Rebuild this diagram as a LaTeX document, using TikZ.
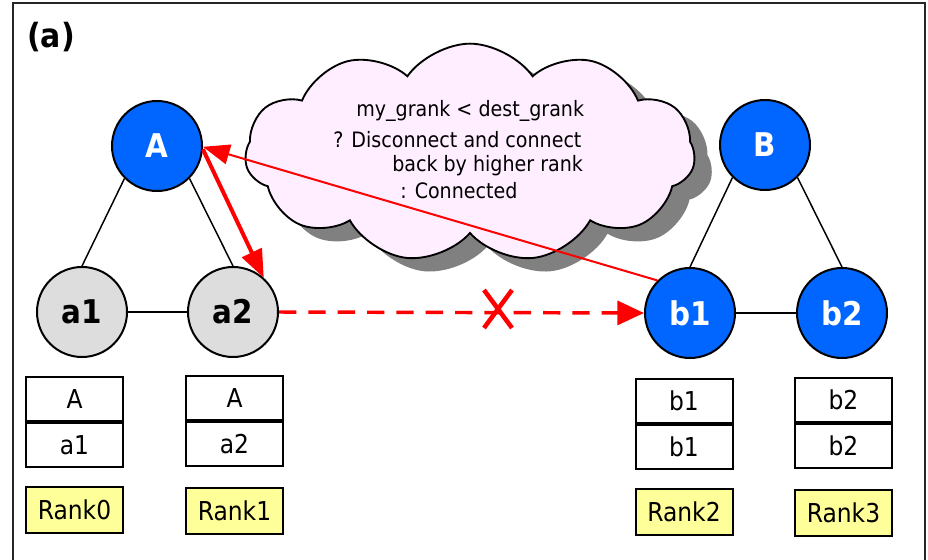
\documentclass[tikz,border=0pt]{standalone}
\usepackage{fontspec}
\setmainfont{DejaVu Sans Condensed}
\usetikzlibrary{arrows.meta,shapes.symbols,shadows}

\definecolor{nodeblue}{RGB}{0,102,255}
\definecolor{nodegray}{RGB}{221,221,221}
\definecolor{rankyellow}{RGB}{255,255,153}
\definecolor{cloudpink}{RGB}{255,238,255}
\definecolor{shadowgray}{RGB}{128,128,128}

\tikzset{
  proc/.style={circle, draw=black, line width=1.5pt, minimum size=67.5pt, inner sep=0pt,
    font=\fontsize{24.5}{27}\selectfont\bfseries},
  procB/.style={proc, fill=nodeblue, text=white},
  procA/.style={proc, fill=nodegray, text=black},
  link/.style={line width=1.1pt, black},
  cell/.style={rectangle, draw=black, line width=1.5pt, fill=white, minimum width=72.75pt,
    minimum height=33pt, inner sep=0pt, font=\fontsize{19.5}{22}\selectfont},
  rankbox/.style={cell, fill=rankyellow, minimum height=34.5pt},
  cloudtext/.style={inner sep=0pt, anchor=base west, font=\fontsize{15.9}{18}\selectfont},
  redhead/.style={-{Triangle[length=21pt,width=16pt]}}
}

\begin{document}
\begin{tikzpicture}[x=0.75pt, y=-0.75pt]
\useasboundingbox (0,0) rectangle (928,560);

% panel frame (open at the bottom)
\draw[line width=1.5pt, black!85] (13,560) -- (13,3) -- (925,3) -- (925,560);
\node[font=\fontsize{25}{27}\selectfont\bfseries] (tag) at (51,37) {(a)};

% cloud with its drop shadow
\node[cloud, cloud puffs=11, cloud puff arc=110, cloud ignores aspect,
      minimum width=337.5pt, minimum height=164pt, draw=black, line width=1.4pt,
      fill=cloudpink,
      drop shadow={shadow xshift=13pt, shadow yshift=-10pt, fill=shadowgray, opacity=1}]
      (cloud) at (470,153) {};
\node[cloudtext] (t1) at (356,117) {my\_grank < dest\_grank};
\node[cloudtext] (t2) at (333,147) {? Disconnect and connect};
\node[cloudtext] (t3) at (392,171) {back by higher rank};
\node[cloudtext] (t4) at (400,198) {: Connected};

% process trees
\node[procB] (A)  at (157,146) {A};
\node[procA] (a1) at (82,312)  {a1};
\node[procA] (a2) at (233,312) {a2};
\node[procB] (B)  at (765,145) {B};
\node[procB] (b1) at (690,313) {b1};
\node[procB] (b2) at (842,313) {b2};

\draw[link] (A.225) -- (a1.north);
\draw[link] (A.-45) -- (a2.north);
\draw[link] (a1) -- (a2);
\draw[link] (B.225) -- (b1.north);
\draw[link] (B.-45) -- (b2.north);
\draw[link] (b1) -- (b2);

% connection attempts
\draw[red, line width=3pt, redhead] (A.-4) -- (a2.48);
\draw[red, line width=1.5pt, -{Triangle[length=20pt,width=15pt]}] (b1.135) -- (A.-1);
\draw[red, line width=2.6pt, dash pattern=on 13pt off 9pt,
      -{Triangle[length=20pt,width=18pt]}] (a2.east) -- (b1.west);
\coordinate (xc) at (498,309);
\draw[red, line width=3.4pt] ([shift={(-14,-19)}]xc) -- ([shift={(14,19)}]xc)
                             ([shift={(14,-19)}]xc) -- ([shift={(-14,19)}]xc);

% rank tables
\node[cell] (ta1) at (74.5,399)  {A};
\node[cell, anchor=north] (ba1) at (ta1.south) {a1};
\node[rankbox] (r0) at (74.5,510) {Rank0};

\node[cell] (ta2) at (234.5,398) {A};
\node[cell, anchor=north] (ba2) at (ta2.south) {a2};
\node[rankbox] (r1) at (234.5,510.5) {Rank1};

\node[cell] (tb1) at (684,401) {b1};
\node[cell, anchor=north] (bb1) at (tb1.south) {b1};
\node[rankbox] (r2) at (684,511.5) {Rank2};

\node[cell] (tb2) at (843.5,400) {b2};
\node[cell, anchor=north] (bb2) at (tb2.south) {b2};
\node[rankbox] (r3) at (843.5,512.5) {Rank3};
\end{tikzpicture}
\end{document}
